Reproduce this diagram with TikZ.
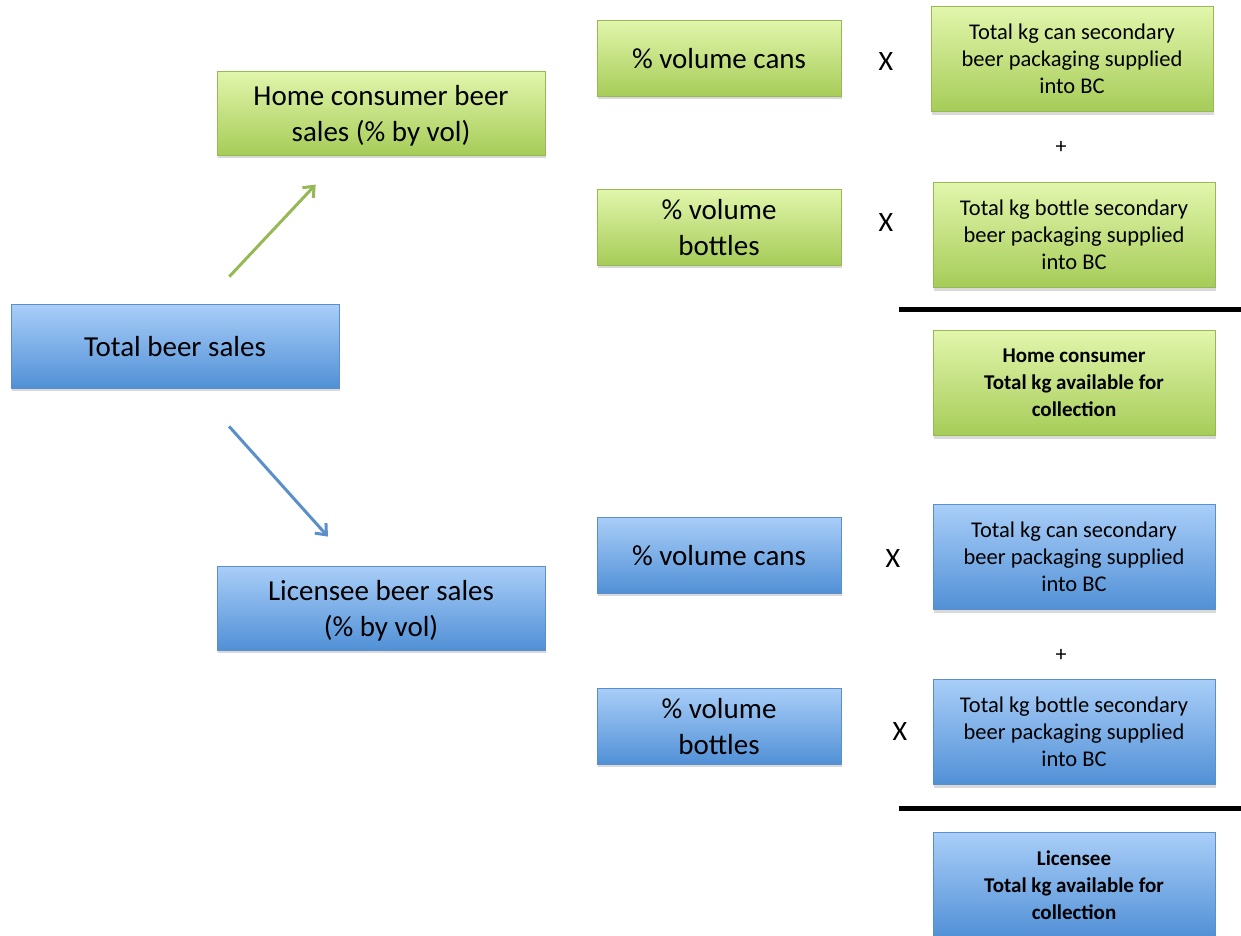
\documentclass[tikz,border=0pt]{standalone}
\usepackage{fontspec}
\setmainfont{Carlito}
\usetikzlibrary{arrows.meta,shadows}

\definecolor{greentop}{HTML}{E2F6AC}
\definecolor{greenbot}{HTML}{A6CC58}
\definecolor{greenline}{HTML}{97B955}
\definecolor{bluetop}{HTML}{A9CEF8}
\definecolor{bluebot}{HTML}{5190D6}
\definecolor{blueline}{HTML}{5B8FC9}

\tikzset{
  box/.style={draw, line width=0.8pt, align=center, inner sep=2pt,
    drop shadow={shadow xshift=1pt, shadow yshift=-3pt, opacity=0.3}},
  greenbox/.style={box, draw=greenline, top color=greentop, bottom color=greenbot},
  bluebox/.style={box, draw=blueline, top color=bluetop, bottom color=bluebot},
  salesbox/.style={minimum width=328pt, minimum height=84pt, text depth=-4pt, font=\fontsize{29}{36}\selectfont},
  pctbox/.style={minimum width=244pt, minimum height=76pt, text depth=-7pt, font=\fontsize{29}{36}\selectfont},
  kgbox/.style={minimum width=282pt, minimum height=105pt, text depth=-5pt, font=\fontsize{22.5}{27}\selectfont},
  sumbox/.style={minimum width=282pt, minimum height=105pt, text depth=-6pt, font=\fontsize{21}{27}\selectfont\bfseries},
  opsign/.style={font=\fontsize{28}{30}\selectfont},
  plussign/.style={font=\fontsize{22}{24}\selectfont},
  rule/.style={line width=5pt, black},
  flow/.style={line width=3pt, -{Straight Barb[length=9pt, width=15pt, line width=3pt]}}
}

\begin{document}
\begin{tikzpicture}[x=1pt, y=-1pt]
  \useasboundingbox (0,0) rectangle (1241,935); % page frame

  % sales split
  \node[bluebox, salesbox] (total) at (175,346) {Total beer sales};
  \node[greenbox, salesbox] (home) at (381,113) {Home consumer beer\\sales (\% by vol)};
  \node[bluebox, salesbox] (licensee) at (381,608) {Licensee beer sales\\(\% by vol)};

  \draw[flow, greenline, shorten <=37pt, shorten >=40pt] ([xshift=29pt]total.north) -- ([xshift=-38pt]home.south);
  \draw[flow, blueline, shorten <=51pt, shorten >=39pt] ([xshift=20pt]total.south) -- ([xshift=-27pt]licensee.north);

  % home consumer sum
  \node[greenbox, pctbox] (hcans) at (719,58) {\% volume cans};
  \node[greenbox, pctbox] (hbottles) at (719,227) {\% volume\\bottles};
  \node[opsign] (hx1) at (886,62) {X};
  \node[opsign] (hx2) at (886,223) {X};
  \node[greenbox, kgbox] (hkgcan) at (1072,59) {Total kg can secondary\\beer packaging supplied\\into BC};
  \node[plussign] (hplus) at (1061,147) {+};
  \node[greenbox, kgbox] (hkgbottle) at (1074,235) {Total kg bottle secondary\\beer packaging supplied\\into BC};
  \draw[rule] (899,309) -- (1241,309); % sum line
  \node[greenbox, sumbox] (htotal) at (1074,383) {Home consumer\\Total kg available for\\collection};

  % licensee sum
  \node[bluebox, pctbox] (lcans) at (719,555) {\% volume cans};
  \node[bluebox, pctbox] (lbottles) at (719,726) {\% volume\\bottles};
  \node[opsign] (lx1) at (893,559) {X};
  \node[opsign] (lx2) at (900,732) {X};
  \node[bluebox, kgbox] (lkgcan) at (1074,557) {Total kg can secondary\\beer packaging supplied\\into BC};
  \node[plussign] (lplus) at (1061,655) {+};
  \node[bluebox, kgbox] (lkgbottle) at (1074,732) {Total kg bottle secondary\\beer packaging supplied\\into BC};
  \draw[rule] (899,808) -- (1241,808); % sum line
  \node[bluebox, sumbox] (ltotal) at (1074,885) {Licensee\\Total kg available for\\collection};
\end{tikzpicture}
\end{document}
